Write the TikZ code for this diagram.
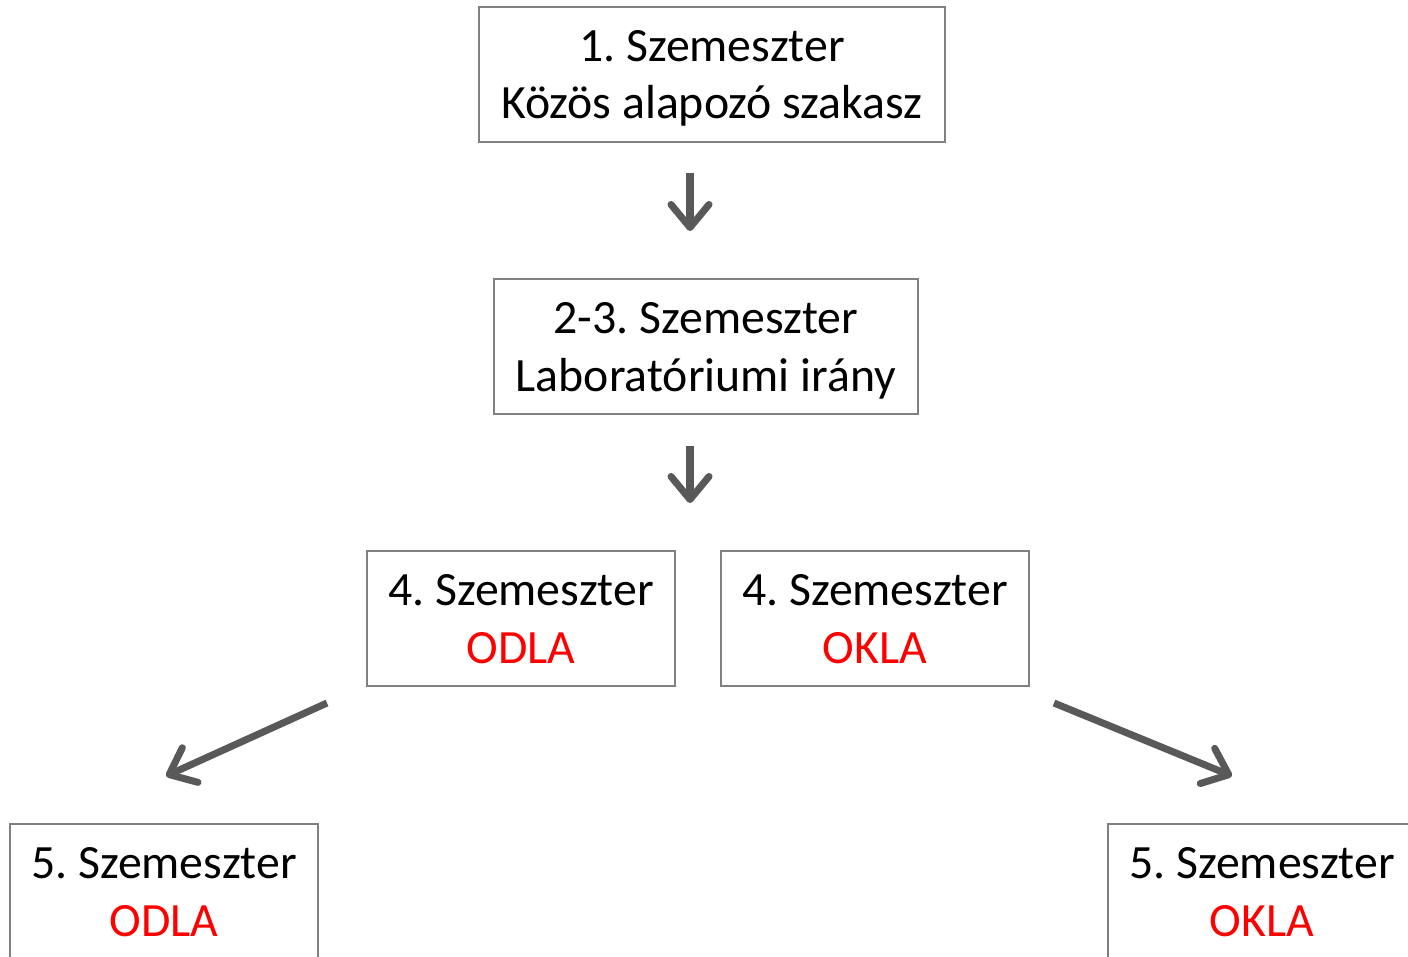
\documentclass[tikz,border=0pt]{standalone}
\usepackage{fontspec}
\setmainfont{Carlito}
\usetikzlibrary{arrows.meta}
\frenchspacing
\definecolor{boxgray}{HTML}{808080}
\definecolor{arrowgray}{HTML}{595959}
\definecolor{oklared}{HTML}{FF0000}
\tikzset{
  felev/.style={draw=boxgray,line width=0.8pt,align=center,inner sep=0pt,
    font=\fontsize{27.2}{33}\selectfont,minimum height=2.7cm,text depth=0pt},
  nyil/.style={draw=arrowgray,line width=4pt,
    -{Straight Barb[length=0.46cm,width=0.76cm,line cap=round,line join=round]}}
}
\begin{document}
\begin{tikzpicture}[x=0.02cm,y=-0.02cm]
\useasboundingbox (0,0) rectangle (1408,956);
% first semester
\node [felev,minimum width=9.32cm] (sz1) at (712,74.5) {1. Szemeszter\\Közös alapozó szakasz};
% second and third semester
\node [felev,minimum width=8.48cm] (sz23) at (706,346.5) {2-3. Szemeszter\\Laboratóriumi irány};
% fourth semester
\node [felev,minimum width=6.16cm] (sz4d) at (521,618.5) {4. Szemeszter\\\textcolor{oklared}{ODLA}};
\node [felev,minimum width=6.16cm] (sz4k) at (875,618.5) {4. Szemeszter\\\textcolor{oklared}{OKLA}};
% fifth semester
\node [felev,minimum width=6.16cm] (sz5d) at (164,891.5) {5. Szemeszter\\\textcolor{oklared}{ODLA}};
\node [felev,minimum width=6.16cm] (sz5k) at (1262,891.5) {5. Szemeszter\\\textcolor{oklared}{OKLA}};
% arrow ends
\coordinate (a1) at (690,173);
\coordinate (b1) at (690,231);
\coordinate (a2) at (690,446);
\coordinate (b2) at (690,503);
\coordinate (a3) at (327,703);
\coordinate (b3) at (166,776);
\coordinate (a4) at (1054,703);
\coordinate (b4) at (1232,776);
% arrows
\draw [nyil] (a1) -- (b1);
\draw [nyil] (a2) -- (b2);
\draw [nyil] (a3) -- (b3);
\draw [nyil] (a4) -- (b4);
\end{tikzpicture}
\end{document}
